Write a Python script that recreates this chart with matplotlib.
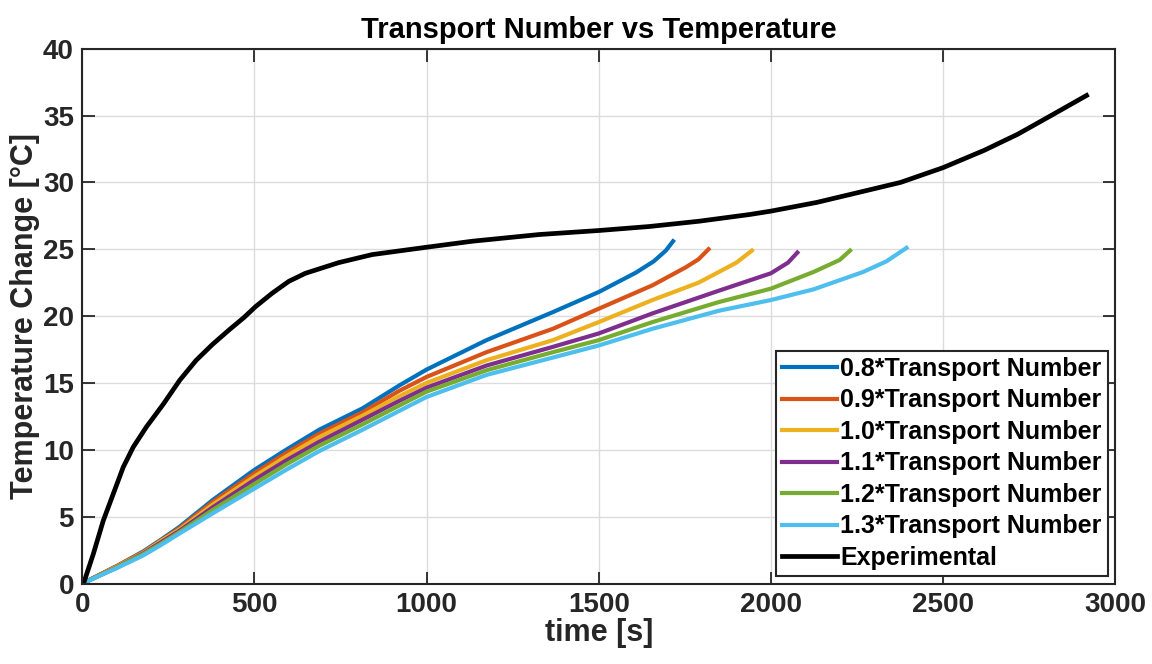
import matplotlib

matplotlib.use("Agg")

import matplotlib.pyplot as plt

plt.rcParams["font.family"] = ["Liberation Sans", "DejaVu Sans"]
plt.rcParams["font.weight"] = "bold"

# Experimental temperature rise
t_exp = [0, 5, 32, 61, 90, 119, 148, 186, 235, 283, 331, 379, 428, 470, 503, 551, 600, 648,
         745, 842, 1000, 1133, 1327, 1500, 1647, 1793, 1939, 2000, 2133, 2231, 2377, 2500,
         2620, 2717, 2814, 2917]
dT_exp = [0, 0.1, 2.2, 4.7, 6.7, 8.7, 10.2, 11.7, 13.4, 15.2, 16.7, 17.9, 19.0, 19.9, 20.7,
          21.7, 22.6, 23.2, 24.0, 24.6, 25.15, 25.6, 26.1, 26.4, 26.7, 27.1, 27.6, 27.85, 28.5,
          29.1, 30.0, 31.1, 32.4, 33.6, 35.0, 36.5]

# Simulated runs with scaled transport number
t_08 = [0, 50, 100, 177, 230, 283, 379, 500, 592, 688, 814, 920, 1000, 1174, 1367, 1500,
        1608, 1660, 1695, 1716]
dT_08 = [0, 0.65, 1.3, 2.4, 3.3, 4.25, 6.25, 8.5, 10.0, 11.5, 13.1, 14.8, 16.0, 18.2, 20.3,
         21.8, 23.25, 24.1, 24.9, 25.6]

t_09 = [0, 50, 100, 177, 230, 283, 379, 500, 592, 688, 814, 920, 1000, 1174, 1367, 1500,
        1656, 1753, 1790, 1819]
dT_09 = [0, 0.65, 1.3, 2.35, 3.25, 4.15, 6.1, 8.25, 9.75, 11.2, 12.8, 14.4, 15.45, 17.3,
         19.05, 20.55, 22.3, 23.65, 24.25, 25.0]

t_10 = [0, 50, 100, 177, 230, 283, 379, 500, 592, 688, 814, 920, 1000, 1174, 1367, 1500,
        1656, 1790, 1849, 1900, 1945]
dT_10 = [0, 0.62, 1.25, 2.3, 3.2, 4.05, 5.9, 8.0, 9.5, 10.95, 12.55, 14.0, 15.0, 16.7, 18.2,
         19.55, 21.2, 22.5, 23.3, 24.0, 24.9]

t_11 = [0, 50, 100, 177, 230, 283, 379, 500, 592, 688, 814, 920, 1000, 1174, 1367, 1500,
        1656, 1849, 2000, 2050, 2077]
dT_11 = [0, 0.6, 1.2, 2.25, 3.1, 3.95, 5.7, 7.75, 9.2, 10.6, 12.25, 13.65, 14.65, 16.3, 17.7,
         18.7, 20.2, 21.9, 23.2, 24.0, 24.75]

t_12 = [0, 50, 100, 177, 230, 283, 379, 500, 592, 688, 814, 920, 1000, 1174, 1367, 1500,
        1656, 1849, 2000, 2124, 2200, 2230]
dT_12 = [0, 0.6, 1.2, 2.2, 3.0, 3.85, 5.5, 7.45, 8.9, 10.3, 11.9, 13.3, 14.35, 15.95, 17.3,
         18.2, 19.55, 21.05, 22.05, 23.3, 24.2, 24.9]

t_13 = [0, 50, 100, 177, 230, 283, 379, 500, 592, 688, 814, 920, 1000, 1174, 1367, 1500,
        1656, 1849, 2000, 2124, 2268, 2336, 2394]
dT_13 = [0, 0.58, 1.15, 2.1, 2.9, 3.75, 5.25, 7.1, 8.5, 9.9, 11.5, 12.9, 13.95, 15.6, 16.9,
         17.8, 19.05, 20.4, 21.2, 22.0, 23.3, 24.1, 25.1]

labels = ["0.8*Transport Number", "0.9*Transport Number", "1.0*Transport Number",
          "1.1*Transport Number", "1.2*Transport Number", "1.3*Transport Number"]
colors = ["#0072BD", "#D95319", "#EDB120", "#7E2F8E", "#77AC30", "#4DBEEE"]
runs = [(t_08, dT_08), (t_09, dT_09), (t_10, dT_10),
        (t_11, dT_11), (t_12, dT_12), (t_13, dT_13)]

fig = plt.figure(figsize=(11.52, 6.64), dpi=100)
ax = fig.add_axes([0.0714, 0.1212, 0.8966, 0.8055])

for (t, dT), lab, c in zip(runs, labels, colors):
    ax.plot(t, dT, color=c, lw=3, label=lab, solid_joinstyle="round")
ax.plot(t_exp, dT_exp, color="black", lw=3.4, label="Experimental", solid_joinstyle="round")

ax.set_xlim(0, 3000)
ax.set_ylim(0, 40)
ax.set_xticks(range(0, 3001, 500))
ax.set_yticks(range(0, 41, 5))
ax.grid(True, color="#dcdcdc", lw=1)
ax.set_axisbelow(True)
ax.tick_params(direction="in", length=9, width=1.3, top=True, right=True,
               labelsize=20, colors="#262626", pad=6)
for lab in ax.get_xticklabels() + ax.get_yticklabels():
    lab.set_fontweight("bold")
for sp in ax.spines.values():
    sp.set_color("#262626")
    sp.set_linewidth(1.5)

ax.set_xlabel("time [s]", fontsize=22, fontweight="bold", color="#262626", labelpad=0)
ax.set_ylabel("Temperature Change [°C]", fontsize=22, fontweight="bold", color="#262626", labelpad=2)
ax.set_title("Transport Number vs Temperature", fontsize=21, fontweight="bold", pad=8)

leg = ax.legend(loc="lower right", handlelength=2.2, handletextpad=0.1,
                borderpad=0.25, labelspacing=0.3, borderaxespad=0.3, fancybox=False,
                framealpha=1, edgecolor="#262626", prop={"weight": "bold", "size": 18})
leg.get_frame().set_linewidth(1.5)

fig.savefig("out.png", dpi=100)
